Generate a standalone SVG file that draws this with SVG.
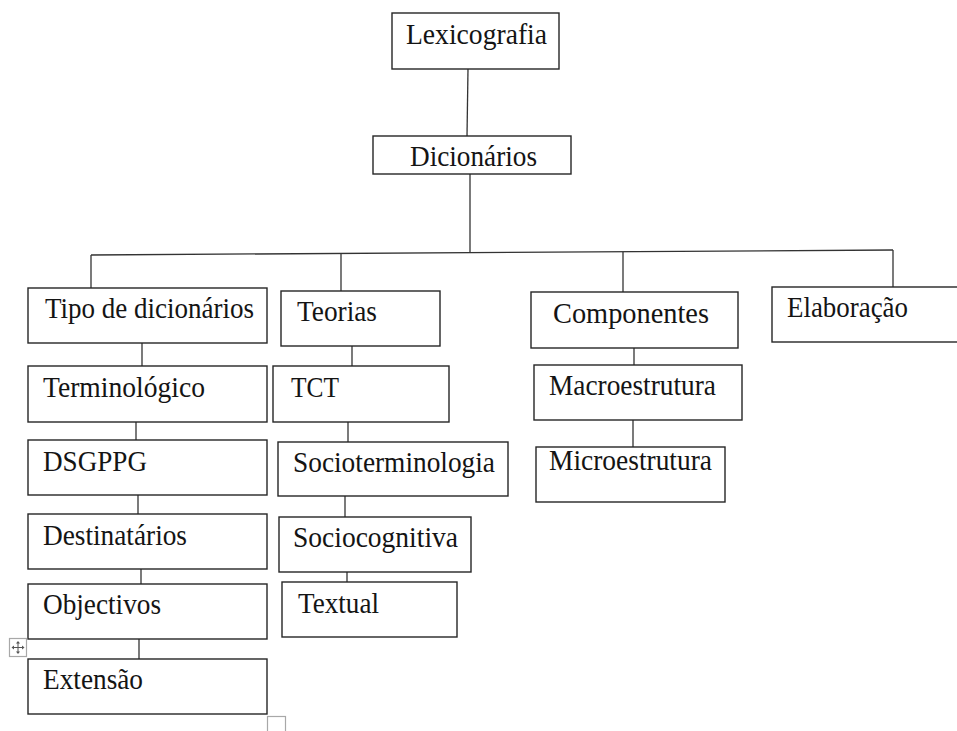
<svg xmlns="http://www.w3.org/2000/svg" width="957" height="731" viewBox="0 0 957 731">
  <style>
    .box { fill: #ffffff; stroke: #262626; stroke-width: 1.4; }
    .lbl { font-family: "Liberation Serif", serif; font-size: 30px; fill: #141414; }
    .conn line { stroke: #333333; stroke-width: 1.3; fill: none; }
    .handle { fill: #ffffff; stroke: #a8a8a8; stroke-width: 1.2; }
  </style>
  <rect width="957" height="731" fill="#ffffff"/>

  <!-- connectors -->
  <g id="connectors" class="conn">
    <line x1="468" y1="69" x2="467" y2="136"/>
    <line x1="470" y1="174" x2="470" y2="253"/>
    <line x1="91" y1="255" x2="893" y2="250"/>
    <line x1="91" y1="255" x2="91" y2="288"/>
    <line x1="341" y1="254" x2="341" y2="291"/>
    <line x1="623" y1="252" x2="623" y2="292"/>
    <line x1="893" y1="250" x2="893" y2="287"/>
    <line x1="142" y1="343" x2="142" y2="366"/>
    <line x1="136" y1="422" x2="136" y2="440"/>
    <line x1="138" y1="495" x2="138" y2="514"/>
    <line x1="141" y1="569" x2="141" y2="584"/>
    <line x1="139" y1="639" x2="139" y2="659"/>
    <line x1="352" y1="346" x2="352" y2="366"/>
    <line x1="348" y1="422" x2="348" y2="442"/>
    <line x1="345" y1="496" x2="345" y2="517"/>
    <line x1="347" y1="572" x2="347" y2="582"/>
    <line x1="634" y1="348" x2="634" y2="365"/>
    <line x1="633" y1="420" x2="633" y2="447"/>
  </g>

  <!-- nodes -->
  <g id="lexicografia">
    <rect class="box" x="392" y="13" width="167" height="56"/>
    <text class="lbl" x="406" y="44" textLength="141" lengthAdjust="spacingAndGlyphs">Lexicografia</text>
  </g>
  <g id="dicionarios">
    <rect class="box" x="373" y="136" width="198" height="38"/>
    <text class="lbl" x="410" y="166" textLength="127" lengthAdjust="spacingAndGlyphs">Dicionários</text>
  </g>

  <g id="tipo">
    <rect class="box" x="28" y="288" width="239" height="55"/>
    <text class="lbl" x="45" y="318" textLength="209" lengthAdjust="spacingAndGlyphs">Tipo de dicionários</text>
  </g>
  <g id="terminologico">
    <rect class="box" x="28" y="366" width="239" height="56"/>
    <text class="lbl" x="43" y="397" textLength="162" lengthAdjust="spacingAndGlyphs">Terminológico</text>
  </g>
  <g id="dsgppg">
    <rect class="box" x="28" y="440" width="239" height="55"/>
    <text class="lbl" x="43" y="471" textLength="104" lengthAdjust="spacingAndGlyphs">DSGPPG</text>
  </g>
  <g id="destinatarios">
    <rect class="box" x="28" y="514" width="239" height="55"/>
    <text class="lbl" x="43" y="545" textLength="144" lengthAdjust="spacingAndGlyphs">Destinatários</text>
  </g>
  <g id="objectivos">
    <rect class="box" x="28" y="584" width="239" height="55"/>
    <text class="lbl" x="43" y="614" textLength="118" lengthAdjust="spacingAndGlyphs">Objectivos</text>
  </g>
  <g id="extensao">
    <rect class="box" x="28" y="659" width="239" height="55"/>
    <text class="lbl" x="43" y="689" textLength="100" lengthAdjust="spacingAndGlyphs">Extensão</text>
  </g>

  <g id="teorias">
    <rect class="box" x="281" y="291" width="159" height="55"/>
    <text class="lbl" x="297" y="321" textLength="80" lengthAdjust="spacingAndGlyphs">Teorias</text>
  </g>
  <g id="tct">
    <rect class="box" x="273" y="366" width="176" height="56"/>
    <text class="lbl" x="291" y="397" textLength="48" lengthAdjust="spacingAndGlyphs">TCT</text>
  </g>
  <g id="socioterminologia">
    <rect class="box" x="278" y="442" width="230" height="54"/>
    <text class="lbl" x="293" y="472" textLength="202" lengthAdjust="spacingAndGlyphs">Socioterminologia</text>
  </g>
  <g id="sociocognitiva">
    <rect class="box" x="279" y="517" width="192" height="55"/>
    <text class="lbl" x="293" y="547" textLength="165" lengthAdjust="spacingAndGlyphs">Sociocognitiva</text>
  </g>
  <g id="textual">
    <rect class="box" x="282" y="582" width="175" height="55"/>
    <text class="lbl" x="298" y="613" textLength="81" lengthAdjust="spacingAndGlyphs">Textual</text>
  </g>

  <g id="componentes">
    <rect class="box" x="531" y="292" width="207" height="56"/>
    <text class="lbl" x="553" y="323" textLength="156" lengthAdjust="spacingAndGlyphs">Componentes</text>
  </g>
  <g id="macroestrutura">
    <rect class="box" x="534" y="365" width="208" height="55"/>
    <text class="lbl" x="549" y="395" textLength="167" lengthAdjust="spacingAndGlyphs">Macroestrutura</text>
  </g>
  <g id="microestrutura">
    <rect class="box" x="536" y="447" width="189" height="55"/>
    <text class="lbl" x="549" y="470" textLength="163" lengthAdjust="spacingAndGlyphs">Microestrutura</text>
  </g>

  <g id="elaboracao">
    <rect class="box" x="772" y="287" width="190" height="55"/>
    <text class="lbl" x="787" y="317" textLength="121" lengthAdjust="spacingAndGlyphs">Elaboração</text>
  </g>

  <!-- table move handle and resize handle -->
  <g id="move-handle">
    <rect class="handle" x="9.5" y="638.5" width="17" height="18"/>
    <g stroke="#555555" stroke-width="1" fill="none">
      <line x1="18" y1="642" x2="18" y2="653"/>
      <line x1="12.5" y1="647.5" x2="23.5" y2="647.5"/>
    </g>
    <g fill="#555555">
      <polygon points="18,641 16,643.5 20,643.5"/>
      <polygon points="18,654 16,651.5 20,651.5"/>
      <polygon points="11.5,647.5 14,645.5 14,649.5"/>
      <polygon points="24.5,647.5 22,645.5 22,649.5"/>
    </g>
  </g>
  <g id="resize-handle">
    <rect class="handle" x="267.5" y="716.5" width="18" height="20"/>
  </g>
</svg>
